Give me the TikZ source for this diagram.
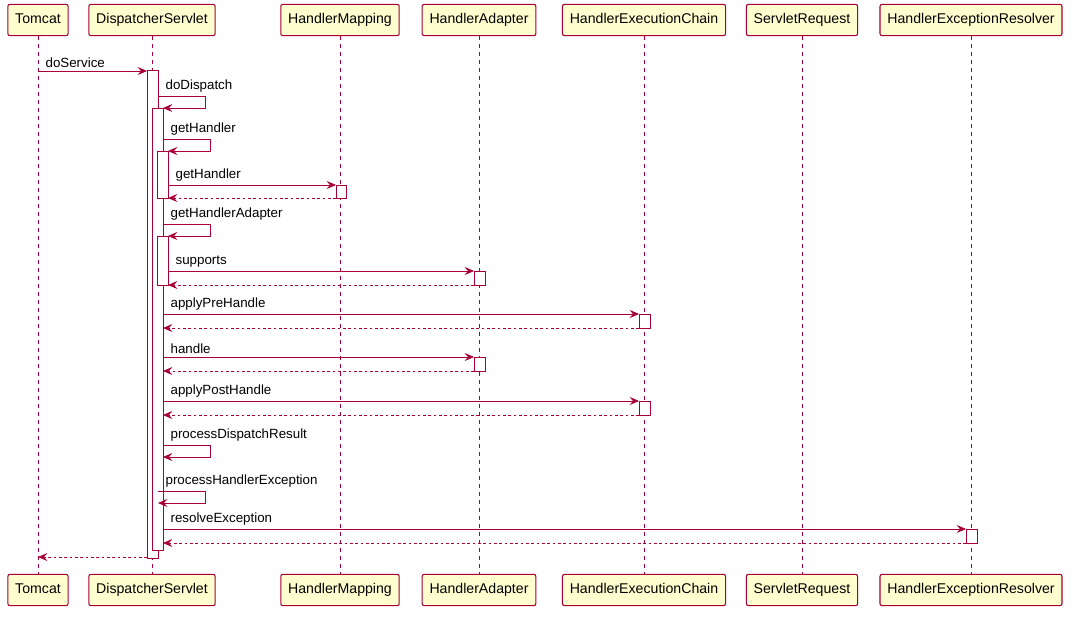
\documentclass[tikz,border=0pt]{standalone}
\usepackage{fontspec}
\setmainfont{Liberation Sans}
\usetikzlibrary{arrows.meta}
\definecolor{umlred}{HTML}{A80036}
\definecolor{umlfill}{HTML}{FEFECE}
\tikzset{part/.style = {draw=umlred, fill=umlfill, line width=0.8pt, rounded corners=1.5pt, text height=7.5pt, text depth=2pt, minimum height=23.5pt, inner xsep=5.5pt, font=\fontsize{10.6}{12}\selectfont},
  life/.style = {umlred, line width=0.5pt, dash pattern=on 3pt off 3pt},
  bar/.style = {draw=umlred, fill=white, line width=0.6pt},
  msg/.style = {umlred, line width=0.6pt, -{Stealth[length=7pt, width=6pt, inset=2.5pt]}},
  ret/.style = {msg, dash pattern=on 2pt off 2pt},
  lbl/.style = {anchor=south west, inner sep=1pt, font=\fontsize{10}{11}\selectfont}}
\newcommand{\call}[4]{\draw [msg] (#1,#3) -- (#2,#3);
  \node [lbl] at (#1+6,#3-2) {#4};}
\newcommand{\back}[3]{\draw [ret] (#1,#3) -- (#2,#3);}
\newcommand{\selfcall}[4]{\draw [msg] (#1,#2) -- (#1+47,#2) -- (#1+47,#2+12) -- (#3,#2+12);
  \node [lbl] at (#1+6,#2-2) {#4};}
\begin{document}
\begin{tikzpicture}[x=0.75pt, y=-0.75pt]
  \useasboundingbox (0,0) rectangle (1080,617);

  % participants and lifelines
  \foreach \n/\x/\t in {tom/38/Tomcat, ds/152/DispatcherServlet, hm/340/HandlerMapping, ha/479/HandlerAdapter, hec/644/HandlerExecutionChain, sr/802/ServletRequest, her/971/HandlerExceptionResolver} {
    \node [part] (\n-top) at (\x,20) {\t};
    \node [part] (\n-bot) at (\x,590) {\t};
    \draw [life] (\n-top) -- (\n-bot);
  }

  % activations
  \draw [bar] (147,70) rectangle (158,558);
  \draw [bar] (152,108) rectangle (163,550);
  \draw [bar] (157,151) rectangle (168,198);
  \draw [bar] (157,236) rectangle (168,285);
  \draw [bar] (336,185) rectangle (346,198);
  \draw [bar] (474,271) rectangle (485,285);
  \draw [bar] (639,314) rectangle (650,328);
  \draw [bar] (474,357) rectangle (485,371);
  \draw [bar] (639,401) rectangle (650,415);
  \draw [bar] (966,529) rectangle (977,543);

  % messages
  \call{38}{147}{71}{doService}
  \selfcall{158}{96}{163}{doDispatch}
  \selfcall{163}{139}{168}{getHandler}
  \call{168}{336}{185}{getHandler}
  \back{336}{168}{198}
  \selfcall{163}{224}{168}{getHandlerAdapter}
  \call{168}{474}{271}{supports}
  \back{474}{168}{285}
  \call{163}{639}{314}{applyPreHandle}
  \back{639}{163}{328}
  \call{163}{474}{357}{handle}
  \back{474}{163}{371}
  \call{163}{639}{401}{applyPostHandle}
  \back{639}{163}{415}
  \selfcall{163}{445}{163}{processDispatchResult}
  \selfcall{158}{491}{158}{processHandlerException}
  \call{163}{966}{529}{resolveException}
  \back{966}{163}{543}
  \back{147}{38}{557}
\end{tikzpicture}
\end{document}
